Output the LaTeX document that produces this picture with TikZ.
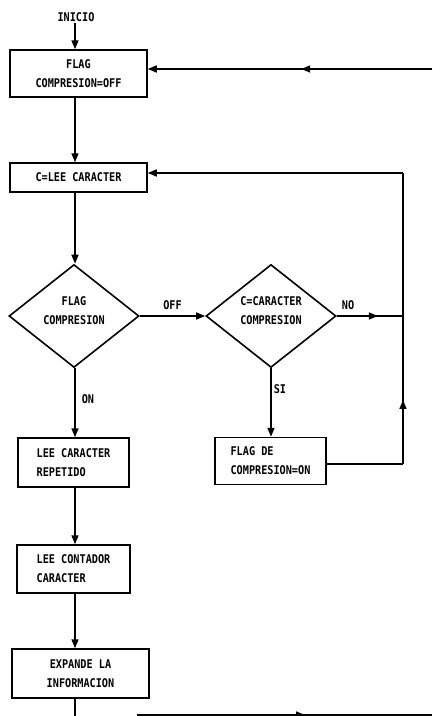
\documentclass[tikz,border=0pt]{standalone}
\usepackage{fontspec}
\setmainfont{DejaVu Sans Mono}[FakeStretch=0.85]
\usetikzlibrary{shapes.geometric,arrows.meta,decorations.markings,calc}
\tikzset{
  every node/.style={font=\fontsize{12}{19}\selectfont\bfseries},
  line/.style={line width=1.6pt},
  arr/.style={line, -{Triangle[length=9pt,width=7pt]}},
  midarrow/.style={postaction={decorate},decoration={markings,
     mark=at position #1 with {\arrow{Triangle[length=9pt,width=7pt]}}}},
  procbox/.style={draw, line width=1.5pt, rectangle, inner sep=0pt},
  decbox/.style={draw, line width=1.6pt, diamond, aspect=1.26, inner sep=0pt,
     minimum width=130pt, minimum height=103pt},
  lbl/.style={inner sep=1pt}
}
\begin{document}
\begin{tikzpicture}[x=1pt,y=-1pt]
\useasboundingbox (0,0) rectangle (432,716);
% nodes
\node[lbl] (ini) at (76,17) {INICIO};
\node[procbox, minimum width=137pt, minimum height=47pt, align=center] (b1) at (78.5,73.5) {FLAG\\COMPRESION=OFF};
\node[procbox, minimum width=137pt, minimum height=29pt] (b2) at (78.5,177.5) {C=LEE CARACTER};
\node[decbox, label={[yshift=5pt,align=center]center:FLAG\\COMPRESION}] (d1) at (74,316) {};
\node[decbox, label={[yshift=5pt,align=center]center:C=CARACTER\\COMPRESION}] (d2) at (271,316) {};
\node[procbox, minimum width=111pt, minimum height=49pt, align=left] (b3) at (73.5,462.5) {LEE CARACTER\\REPETIDO};
\node[procbox, minimum width=111pt, minimum height=47pt, align=left] (b4) at (270.5,461) {FLAG DE\\COMPRESION=ON};
\node[procbox, minimum width=113pt, minimum height=48pt, align=left] (b5) at (73.5,569) {LEE CONTADOR\\CARACTER};
\node[procbox, minimum width=137pt, minimum height=49pt, align=center] (b6) at (80.5,673.5) {EXPANDE LA\\INFORMACION};
% free-end coordinates
\coordinate (rin) at (432,69);
\coordinate (fb) at (403,316);
\coordinate (fbtop) at (403,173);
\coordinate (fbbot) at (403,464);
\coordinate (bot) at (75,716);
\coordinate (bl) at (137,715);
\coordinate (br) at (432,715);
% connectors
\draw[arr] (ini.south -| bot) -- (b1.north -| bot);
\draw[arr] (b1.south -| bot) -- (b2.north -| bot);
\draw[arr] (b2.south -| bot) -- (d1.north -| bot);
\draw[arr] (d1.east) -- node[lbl, above=5pt] {OFF} (d2.west);
\draw[line, midarrow=0.62] (d2.east) -- node[lbl, above=5pt, pos=0.17] {NO} (fb);
\draw[arr] (d1.south -| bot) -- node[lbl, right=5pt, pos=0.44] {ON} (b3.north -| bot);
\draw[arr] (d2.south) -- node[lbl, right=1pt, pos=0.3] {SI} (b4.north -| d2.south);
\draw[arr] (b3.south -| bot) -- (b5.north -| bot);
\draw[arr] (b5.south -| bot) -- (b6.north -| bot);
\draw[line] (b6.south -| bot) -- (bot);
\draw[line] (b4.east |- fbbot) -- (fbbot);
\draw[line, midarrow=0.22] (fbbot) -- (fbtop);
\draw[arr] (fbtop) -- (fbtop -| b2.east);
\draw[arr, midarrow=0.46] (rin) -- (rin -| b1.east);
\draw[line width=1.2pt, midarrow=0.57] (bl) -- (br);
\end{tikzpicture}
\end{document}
